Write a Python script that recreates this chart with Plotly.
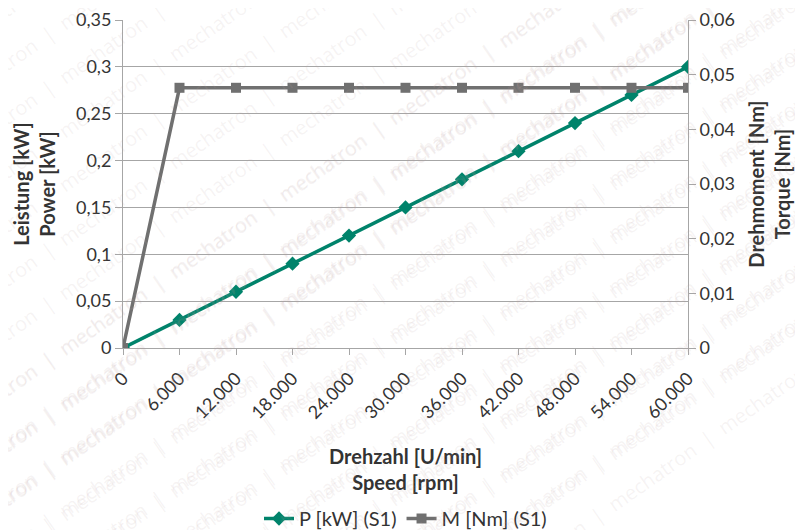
import plotly.graph_objects as go

speed_labels = ["0", "6.000", "12.000", "18.000", "24.000", "30.000",
                "36.000", "42.000", "48.000", "54.000", "60.000"]
power_kw = [0, 0.03, 0.06, 0.09, 0.12, 0.15, 0.18, 0.21, 0.24, 0.27, 0.30]
torque_nm = [0, 0.0476, 0.0476, 0.0476, 0.0476, 0.0476,
             0.0476, 0.0476, 0.0476, 0.0476, 0.0476]

FONT = "Lato"
FS_TICK = 18
FS_TITLE = 20
FS_LEG = 20
TEXT = "#333333"
GRID = "#A6A6A6"
TEAL = "#00836B"
GRAY = "#707070"

fig = go.Figure()
fig.add_trace(go.Scatter(
    x=speed_labels, y=power_kw, name="P [kW] (S1)", mode="lines+markers",
    line=dict(color=TEAL, width=3.5),
    marker=dict(symbol="diamond", size=11, color=TEAL),
    yaxis="y"))
fig.add_trace(go.Scatter(
    x=speed_labels, y=torque_nm, name="M [Nm] (S1)", mode="lines+markers",
    line=dict(color=GRAY, width=3.5),
    marker=dict(symbol="square", size=10, color=GRAY),
    yaxis="y2"))

# watermark
annotations = []
wm = "  |  ".join(["mechatron"] * 14)
for i in range(-10, 20):
    annotations.append(dict(
        xref="paper", yref="paper", x=0.45, y=0.5 - i * 0.165,
        text=wm, showarrow=False, textangle=-35,
        font=dict(family="Open Sans", size=20, color="rgba(190,160,160,0.13)"),
    ))

fig.update_layout(
    width=803, height=530,
    margin=dict(l=115, r=123, t=12, b=190),
    paper_bgcolor="white", plot_bgcolor="white",
    separators=",.",
    font=dict(family=FONT, size=FS_TICK, color=TEXT),
    showlegend=True,
    legend=dict(orientation="h", x=0.5, xanchor="center",
                yref="container", y=0.0, yanchor="bottom",
                font=dict(family=FONT, size=FS_LEG, color=TEXT)),
    xaxis=dict(
        type="category", range=[0, 10], showgrid=False, automargin=False,
        showline=True, linecolor=GRID, linewidth=1,
        ticks="outside", ticklen=6, tickcolor=GRID, tickangle=-45,
        ticklabelstandoff=6,
        tickfont=dict(family=FONT, size=FS_TICK, color=TEXT),
        title=dict(text="<b>Drehzahl [U/min]<br>Speed [rpm]</b>",
                   font=dict(family=FONT, size=FS_TITLE, color=TEXT), standoff=28),
    ),
    yaxis=dict(
        range=[0, 0.35], dtick=0.05, showgrid=True, gridcolor=GRID, gridwidth=1,
        showline=True, linecolor=GRID, linewidth=1, zeroline=False, automargin=False,
        ticks="outside", ticklen=7, tickcolor=GRID,
        tickfont=dict(family=FONT, size=FS_TICK, color=TEXT),
        title=dict(text="<b>Leistung [kW]<br>Power [kW]</b>",
                   font=dict(family=FONT, size=FS_TITLE, color=TEXT), standoff=14),
    ),
    yaxis2=dict(
        range=[0, 0.06], dtick=0.01, overlaying="y", side="right",
        showgrid=False, showline=True, linecolor=GRID, linewidth=1, zeroline=False,
        automargin=False,
        ticks="outside", ticklen=7, tickcolor=GRID,
        tickfont=dict(family=FONT, size=FS_TICK, color=TEXT),
        title=dict(text="<b>Drehmoment [Nm]<br>Torque [Nm]</b>",
                   font=dict(family=FONT, size=FS_TITLE, color=TEXT), standoff=15),
    ),
    annotations=annotations,
)

fig.write_html("out.html")
